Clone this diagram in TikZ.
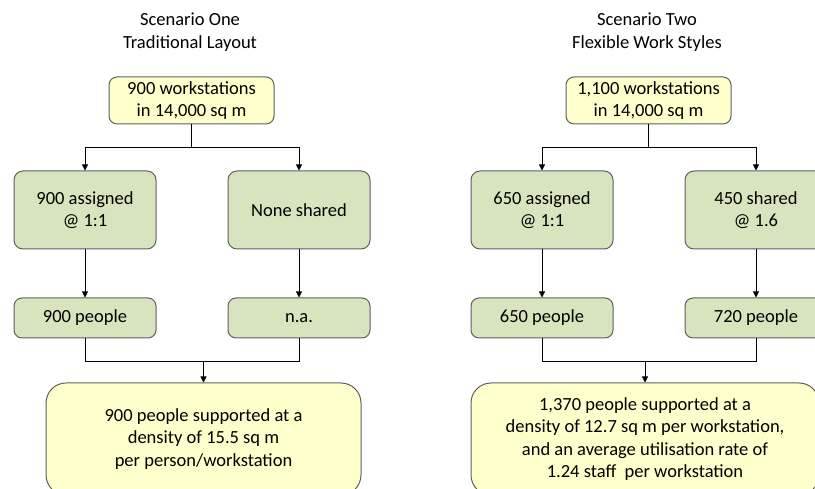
\documentclass[tikz,border=0pt]{standalone}
\usepackage{fontspec}
\setmainfont{Carlito}
\usepackage{tikz}
\usetikzlibrary{positioning, arrows.meta, calc}

\definecolor{boxyellow}{HTML}{FFFFCC}
\definecolor{boxgreen}{HTML}{D7E4BD}
\definecolor{boxline}{HTML}{5F5F5F}

\tikzset{
  yelbox/.style={draw=boxline, line width=1pt, fill=boxyellow, rounded corners=8pt, align=center, inner sep=1mm},
  grnbox/.style={draw=boxline, line width=1pt, fill=boxgreen, rounded corners=9pt, align=center, minimum width=142pt, inner sep=1mm},
  arr/.style={-{Triangle[length=6pt, width=6pt]}, line width=0.8pt},
  lnk/.style={line width=0.8pt}
}

\begin{document}
\begin{tikzpicture}[x=1pt, y=1pt, font=\fontsize{18.5}{22.5}\selectfont]

\useasboundingbox (0,0) rectangle (815,489);
\clip (0,0) rectangle (815,489);

% titles
\node[align=center] (t1) at (190,457) {Scenario One\\Traditional Layout};
\node[align=center] (t2) at (647,457) {Scenario Two\\Flexible Work Styles};

% workstation totals
\node[yelbox, minimum width=165pt, minimum height=47pt] (ws1) at (191.5,388.5) {900 workstations\\in 14,000 sq m};
\node[yelbox, minimum width=165pt, minimum height=47pt] (ws2) at (648.5,388.5) {1,100 workstations\\in 14,000 sq m};

% split into assigned / shared
\node[grnbox, minimum height=78pt] (asg1) at (85,279) {900 assigned\\@ 1:1};
\node[grnbox, minimum height=78pt, right=71pt of asg1] (shr1) {None shared};
\node[grnbox, minimum height=78pt] (asg2) at (542,279) {650 assigned\\@ 1:1};
\node[grnbox, minimum height=78pt, right=71pt of asg2] (shr2) {450 shared\\@ 1.6};

% people per group
\node[grnbox, minimum height=40pt, rounded corners=8pt, below=48pt of asg1] (ppl1a) {900 people};
\node[grnbox, minimum height=40pt, rounded corners=8pt, below=48pt of shr1] (ppl1b) {n.a.};
\node[grnbox, minimum height=40pt, rounded corners=8pt, below=48pt of asg2] (ppl2a) {650 people};
\node[grnbox, minimum height=40pt, rounded corners=8pt, below=48pt of shr2] (ppl2b) {720 people};

% results
\node[yelbox, rounded corners=20pt, minimum width=315pt, minimum height=112pt] (res1) at (203.5,50) {900 people supported at a\\density of 15.5 sq m\\per person/workstation};
\node[yelbox, rounded corners=20pt, minimum width=348pt, minimum height=112pt] (res2) at (645,50) {1,370 people supported at a\\density of 12.7 sq m per workstation,\\and an average utilisation rate of\\1.24 staff\ \ per workstation};

% branches
\draw[arr] (ws1.south) -- ++(0,-23) -| (asg1.north);
\draw[arr] (ws1.south) -- ++(0,-23) -| (shr1.north);
\draw[arr] (ws2.south) -- ++(0,-23) -| (asg2.north);
\draw[arr] (ws2.south) -- ++(0,-23) -| (shr2.north);

\draw[arr] (asg1) -- (ppl1a);
\draw[arr] (shr1) -- (ppl1b);
\draw[arr] (asg2) -- (ppl2a);
\draw[arr] (shr2) -- (ppl2b);

% merge into the results
\draw[lnk] (ppl1a.south) -- ++(0,-23) coordinate (m1) -| (ppl1b.south);
\draw[arr] (res1.north |- m1) -- (res1.north);
\draw[lnk] (ppl2a.south) -- ++(0,-23) coordinate (m2) -| (ppl2b.south);
\draw[arr] (res2.north |- m2) -- (res2.north);

\end{tikzpicture}
\end{document}
